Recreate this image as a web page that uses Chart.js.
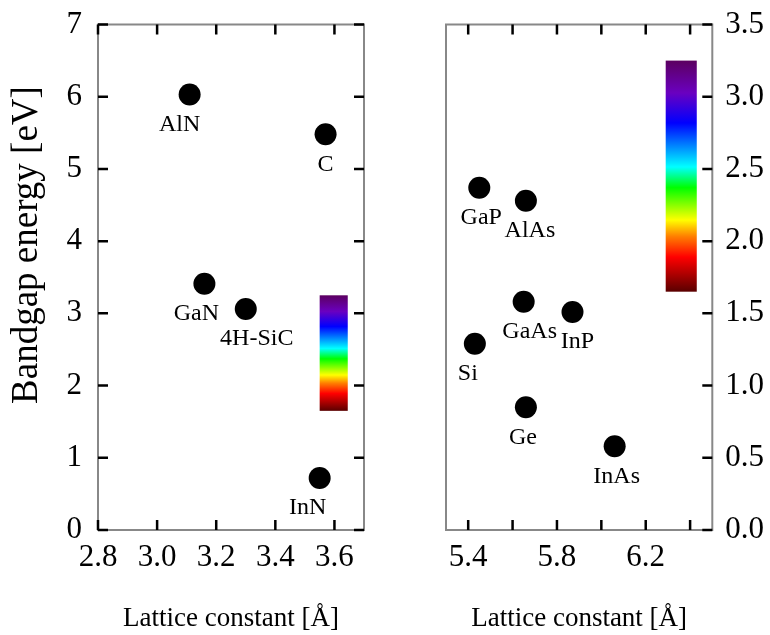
<!DOCTYPE html>
<html>
<head>
<meta charset="utf-8">
<script src="https://cdn.jsdelivr.net/npm/chart.js@4.4.1/dist/chart.umd.min.js"></script>
<style>
  html, body { margin: 0; padding: 0; background: #fff; }
  #wrap { position: relative; width: 770px; height: 635px; }
  #left { position: absolute; left: 0; top: 0; }
  #right { position: absolute; left: 380px; top: 0; }
</style>
</head>
<body>
<div id="wrap">
  <canvas id="left" width="380" height="635"></canvas>
  <canvas id="right" width="390" height="635"></canvas>
</div>
<script>
// wide-gap materials (left panel)
const wideNames = ['AlN', 'C', 'GaN', '4H-SiC', 'InN'];
const wideLattice = [3.11, 3.57, 3.16, 3.30, 3.55];
const wideGap = [6.03, 5.48, 3.41, 3.06, 0.72];

// narrow-gap materials (right panel)
const narrowNames = ['GaP', 'AlAs', 'GaAs', 'InP', 'Si', 'Ge', 'InAs'];
const narrowLattice = [5.45, 5.66, 5.65, 5.87, 5.43, 5.66, 6.06];
const narrowGap = [2.37, 2.28, 1.58, 1.51, 1.29, 0.85, 0.58];

const leftXTicks = [2.8, 3.0, 3.2, 3.4, 3.6];
const leftYTicks = [0, 1, 2, 3, 4, 5, 6, 7];
const rightXTicks = [5.4, 5.6, 5.8, 6.0, 6.2, 6.4];
const rightXLabels = ['5.4', '', '5.8', '', '6.2', ''];
const rightYTicks = [0, 0.5, 1.0, 1.5, 2.0, 2.5, 3.0, 3.5];

// visible spectrum, in eV
const spectrumEnergy = [1.65, 3.25];

// label nudges (px), labels sit under the dots
const wideLabelDx = [-10, 0, -8, 11, -12];
const narrowLabelDx = [2, 4, 6, 5, -7, -3, 2];

const SERIF = '"Liberation Serif", "Times New Roman", serif';

function spectrumGradient(ctx, yBottom, yTop) {
  const g = ctx.createLinearGradient(0, yBottom, 0, yTop);
  g.addColorStop(0.00, '#5a0000');
  g.addColorStop(0.15, '#ff0000');
  g.addColorStop(0.24, '#ff8000');
  g.addColorStop(0.31, '#ffff00');
  g.addColorStop(0.45, '#00ff00');
  g.addColorStop(0.54, '#00ffff');
  g.addColorStop(0.73, '#0000ff');
  g.addColorStop(0.86, '#6a00c0');
  g.addColorStop(1.00, '#5c0060');
  return g;
}

function panelPlugin(opts) {
  return {
    id: 'panel',
    beforeDatasetsDraw(chart) {
      const ctx = chart.ctx, xs = chart.scales.x, ys = chart.scales.y;
      const x0 = xs.getPixelForValue(opts.barX[0]), x1 = xs.getPixelForValue(opts.barX[1]);
      const y0 = ys.getPixelForValue(spectrumEnergy[0]), y1 = ys.getPixelForValue(spectrumEnergy[1]);
      ctx.save();
      ctx.fillStyle = spectrumGradient(ctx, y0, y1);
      ctx.fillRect(x0, y1, x1 - x0, y0 - y1);
      ctx.restore();
    },
    afterDatasetsDraw(chart) {
      const ctx = chart.ctx, a = chart.chartArea;
      const xs = chart.scales.x, ys = chart.scales.y;
      const meta = chart.getDatasetMeta(0);
      ctx.save();
      // point labels
      ctx.fillStyle = '#000';
      ctx.font = '24px ' + SERIF;
      ctx.textAlign = 'center';
      ctx.textBaseline = 'middle';
      meta.data.forEach((pt, i) => {
        ctx.fillText(opts.names[i], pt.x + opts.dx[i], pt.y + 30);
      });
      // frame
      ctx.strokeStyle = '#888';
      ctx.lineWidth = 2;
      ctx.strokeRect(a.left, a.top, a.right - a.left, a.bottom - a.top);
      // inward ticks
      ctx.strokeStyle = '#000';
      ctx.lineWidth = 2.5;
      const L = 10;
      ctx.beginPath();
      xs.ticks.forEach(t => {
        const x = xs.getPixelForValue(t.value);
        ctx.moveTo(x, a.bottom); ctx.lineTo(x, a.bottom - L);
        ctx.moveTo(x, a.top); ctx.lineTo(x, a.top + L);
      });
      ys.ticks.forEach(t => {
        const y = ys.getPixelForValue(t.value);
        if (opts.leftTicks) { ctx.moveTo(a.left, y); ctx.lineTo(a.left + L, y); }
        ctx.moveTo(a.right, y); ctx.lineTo(a.right - L, y);
      });
      ctx.stroke();
      if (opts.yTitle) {
        ctx.translate(27, 245);
        ctx.rotate(-Math.PI / 2);
        ctx.font = '37px ' + SERIF;
        ctx.fillText(opts.yTitle, 0, 0);
      }
      ctx.restore();
    }
  };
}

function fixedTicks(list) {
  return s => { s.ticks = list.map(v => ({ value: v })); };
}

function makePanel(id, cfg) {
  return new Chart(document.getElementById(id), {
    type: 'scatter',
    data: {
      datasets: [{
        data: cfg.xs.map((x, i) => ({ x: x, y: cfg.ys[i] })),
        backgroundColor: '#000',
        borderWidth: 0,
        pointRadius: 11,
        pointHoverRadius: 11
      }]
    },
    options: {
      responsive: false,
      animation: false,
      events: [],
      layout: { padding: cfg.padding },
      plugins: { legend: { display: false }, tooltip: { enabled: false } },
      scales: {
        x: {
          type: 'linear',
          min: cfg.xRange[0],
          max: cfg.xRange[1],
          afterBuildTicks: fixedTicks(cfg.xTicks),
          afterFit: s => { s.height = 105; s.paddingLeft = 0; s.paddingRight = 0; },
          grid: { display: false },
          border: { display: false },
          ticks: {
            autoSkip: false, maxRotation: 0, padding: 1, color: '#000',
            font: { family: SERIF, size: 31 },
            callback: cfg.xLabel
          },
          title: {
            display: true, text: 'Lattice constant [Å]', color: '#000',
            font: { family: SERIF, size: 27 }, padding: 0
          }
        },
        y: {
          type: 'linear',
          position: cfg.yPos,
          min: 0,
          max: cfg.yMax,
          afterBuildTicks: fixedTicks(cfg.yTicks),
          afterFit: s => { s.width = cfg.yWidth; s.paddingTop = 0; s.paddingBottom = 0; },
          grid: { display: false },
          border: { display: false },
          ticks: {
            autoSkip: false, padding: cfg.yPad, color: '#000',
            font: { family: SERIF, size: 31 },
            callback: cfg.yLabel
          }
        }
      }
    },
    plugins: [panelPlugin(cfg.plugin)]
  });
}

makePanel('left', {
  xs: wideLattice, ys: wideGap,
  xRange: [2.8, 3.7], xTicks: leftXTicks,
  xLabel: v => v.toFixed(1),
  yPos: 'left', yMax: 7, yTicks: leftYTicks, yWidth: 98, yPad: 8,
  yLabel: v => String(v),
  padding: { left: 0, right: 16, top: 24.5, bottom: 0 },
  plugin: { names: wideNames, dx: wideLabelDx, barX: [3.55, 3.645], leftTicks: true, yTitle: 'Bandgap energy [eV]' }
});

makePanel('right', {
  xs: narrowLattice, ys: narrowGap,
  xRange: [5.3, 6.5], xTicks: rightXTicks,
  xLabel: (v, i) => rightXLabels[i],
  yPos: 'right', yMax: 3.5, yTicks: rightYTicks, yWidth: 57.7, yPad: 5,
  yLabel: v => v.toFixed(1),
  padding: { left: 66, right: 0, top: 24.5, bottom: 0 },
  plugin: { names: narrowNames, dx: narrowLabelDx, barX: [6.29, 6.43], leftTicks: false, yTitle: null }
});
</script>
</body>
</html>
